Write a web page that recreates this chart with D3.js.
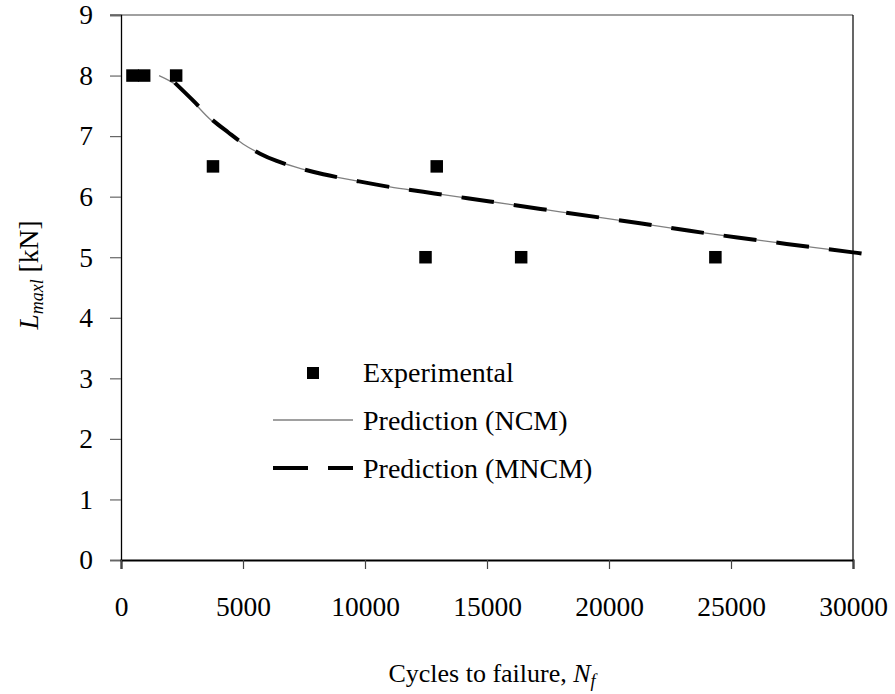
<!DOCTYPE html>
<html>
<head>
<meta charset="utf-8">
<script src="https://cdn.jsdelivr.net/npm/d3@7"></script>
<style>
  html, body { margin: 0; padding: 0; background: #fff; }
  svg { display: block; font-family: "Liberation Serif", "Times New Roman", serif; }
</style>
</head>
<body>
<svg id="chart" width="895" height="694"></svg>
<script>
// Experimental fatigue results: cycles to failure vs. maximum load
const expCycles = [470, 950, 2260, 3770, 12480, 12940, 16400, 24360];
const expLoad   = [8, 8, 8, 6.5, 5, 6.5, 5, 5];

// NCM prediction curve
const ncmCycles = [1560, 2280, 3000, 3650, 4400, 5000, 5700, 6380, 7400, 8290, 9660, 11020, 12390, 13760, 15120, 18000, 21270, 24275, 27280, 30000];
const ncmLoad   = [8.00, 7.84, 7.55, 7.28, 7.05, 6.87, 6.71, 6.59, 6.46, 6.37, 6.26, 6.16, 6.08, 6.00, 5.92, 5.75, 5.56, 5.38, 5.22, 5.08];

// MNCM prediction curve
const mncmCycles = [2210, 3000, 3650, 4400, 5000, 5700, 6380, 7400, 8290, 9660, 11020, 12390, 13760, 15120, 18000, 21270, 24275, 27280, 30000, 30350];
const mncmLoad   = [7.88, 7.57, 7.30, 7.06, 6.88, 6.71, 6.59, 6.46, 6.37, 6.26, 6.16, 6.08, 6.00, 5.92, 5.75, 5.56, 5.38, 5.22, 5.08, 5.06];

const xTicks = [0, 5000, 10000, 15000, 20000, 25000, 30000];
const yTicks = [0, 1, 2, 3, 4, 5, 6, 7, 8, 9];
const legendLabels = ["Experimental", "Prediction (NCM)", "Prediction (MNCM)"];

const svg = d3.select("#chart");
const FS = 27.5;

const x = d3.scaleLinear().domain([0, 30000]).range([121, 853]);
const y = d3.scaleLinear().domain([0, 9]).range([560, 15]);

// top border (at the 9 kN level) and right border
svg.append("line")
  .attr("x1", x(0) - 11).attr("x2", x(30000))
  .attr("y1", y(9)).attr("y2", y(9))
  .attr("stroke", "#808080").attr("stroke-width", 1.5);
svg.append("line")
  .attr("x1", x(30000)).attr("x2", x(30000))
  .attr("y1", y(9)).attr("y2", y(0))
  .attr("stroke", "#000").attr("stroke-width", 1.2);

// Y axis
const yAxis = svg.append("g")
  .attr("transform", `translate(${x(0)},0)`)
  .call(d3.axisLeft(y).tickValues(yTicks).tickFormat(d3.format("d")).tickSize(11).tickPadding(17));
yAxis.select(".domain").attr("stroke", "#000").attr("stroke-width", 1.3);
yAxis.selectAll(".tick line").attr("stroke", "#666").attr("stroke-width", 1.2);
yAxis.selectAll(".tick text")
  .attr("font-family", "Liberation Serif, Times New Roman, serif")
  .attr("font-size", FS).attr("fill", "#000");

// X axis
const xAxis = svg.append("g")
  .attr("transform", `translate(0,${y(0)})`)
  .call(d3.axisBottom(x).tickValues(xTicks).tickFormat(d3.format("d")).tickSize(9).tickPadding(27));
xAxis.select(".domain").attr("stroke", "#000").attr("stroke-width", 2);
xAxis.selectAll(".tick line").attr("stroke", "#444").attr("stroke-width", 1.2);
xAxis.selectAll(".tick text")
  .attr("font-family", "Liberation Serif, Times New Roman, serif")
  .attr("font-size", FS).attr("fill", "#000");

// prediction curves
const line = d3.line().x(d => x(d[0])).y(d => y(d[1])).curve(d3.curveCatmullRom.alpha(0.5));
const ncm = ncmCycles.map((c, i) => [c, ncmLoad[i]]);
const mncm = mncmCycles.map((c, i) => [c, mncmLoad[i]]);

svg.append("path").datum(ncm)
  .attr("d", line).attr("fill", "none")
  .attr("stroke", "#808080").attr("stroke-width", 1.3);

svg.append("path").datum(mncm)
  .attr("d", line).attr("fill", "none")
  .attr("stroke", "#000").attr("stroke-width", 4)
  .attr("stroke-dasharray", "33,20");

// experimental points
const SQ = 12.5;
svg.append("g").selectAll("rect")
  .data(expCycles.map((c, i) => [c, expLoad[i]]))
  .join("rect")
  .attr("x", d => x(d[0]) - SQ / 2)
  .attr("y", d => y(d[1]) - SQ / 2)
  .attr("width", SQ).attr("height", SQ)
  .attr("fill", "#000");

// legend
const lg = svg.append("g");
const rowBase = [382, 430, 478];
lg.append("rect")
  .attr("x", 313 - 6).attr("y", rowBase[0] - 9 - 6)
  .attr("width", 12).attr("height", 12).attr("fill", "#000");
lg.append("line")
  .attr("x1", 273).attr("x2", 353)
  .attr("y1", rowBase[1] - 10).attr("y2", rowBase[1] - 10)
  .attr("stroke", "#808080").attr("stroke-width", 1.3);
lg.append("line")
  .attr("x1", 273).attr("x2", 353)
  .attr("y1", rowBase[2] - 10).attr("y2", rowBase[2] - 10)
  .attr("stroke", "#000").attr("stroke-width", 4)
  .attr("stroke-dasharray", "35,20");
lg.selectAll("text").data(legendLabels).join("text")
  .attr("x", 363).attr("y", (d, i) => rowBase[i])
  .attr("font-size", 28).attr("fill", "#000")
  .text(d => d);

// X axis title
const xt = svg.append("text")
  .attr("x", 492).attr("y", 682)
  .attr("text-anchor", "middle")
  .attr("font-size", 26).attr("fill", "#000");
xt.append("tspan").text("Cycles to failure, ");
xt.append("tspan").attr("font-style", "italic").text("N");
xt.append("tspan").attr("font-style", "italic").attr("font-size", 18).attr("dy", 5).text("f");

// Y axis title
const yt = svg.append("text")
  .attr("transform", "translate(38,275) rotate(-90)")
  .attr("text-anchor", "middle")
  .attr("font-size", FS).attr("fill", "#000");
yt.append("tspan").attr("font-style", "italic").text("L");
yt.append("tspan").attr("font-style", "italic").attr("font-size", 18).attr("dy", 5).text("maxl");
yt.append("tspan").attr("dy", -5).text(" [kN]");
</script>
</body>
</html>
